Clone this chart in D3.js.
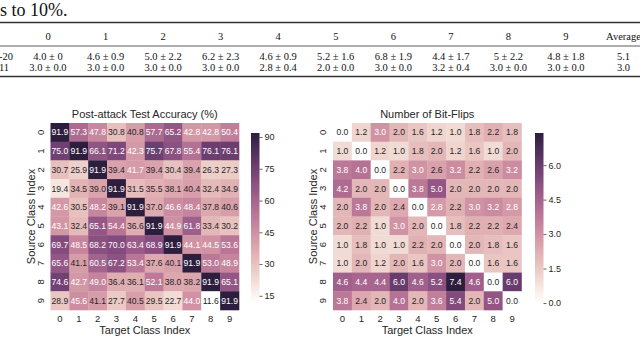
<!DOCTYPE html>
<html>
<head>
<meta charset="utf-8">
<style>
  body { margin: 0; background: #fff; }
  text { font-family: "Liberation Sans", Arial, sans-serif; }
  .serif { font-family: "Liberation Serif", "Times New Roman", serif; fill: #111; }
</style>
</head>
<body>
<svg id="chart" width="640" height="337"></svg>

<script src="https://d3js.org/d3.v7.min.js"></script>
<script>
  // class indices used on both axes
  const classes = d3.range(10)

  // post-attack test accuracy (%), rows = source class, cols = target class
  const accuracy = [
    [91.9, 57.3, 47.8, 30.8, 40.8, 57.7, 65.2, 42.8, 42.8, 50.4],
    [75.0, 91.9, 66.1, 71.2, 42.3, 75.7, 67.8, 55.4, 76.1, 76.1],
    [30.7, 25.9, 91.9, 39.4, 41.7, 39.4, 30.4, 39.4, 26.3, 27.3],
    [19.4, 34.5, 39.0, 91.9, 31.5, 35.5, 38.1, 40.4, 32.4, 34.9],
    [42.6, 30.5, 48.2, 39.1, 91.9, 37.0, 46.6, 48.4, 37.8, 40.6],
    [43.1, 32.4, 65.1, 54.4, 36.6, 91.9, 44.9, 61.8, 33.4, 30.2],
    [69.7, 48.5, 68.2, 70.0, 63.4, 68.9, 91.9, 44.1, 44.5, 53.6],
    [65.6, 41.1, 60.5, 67.2, 53.4, 37.6, 40.1, 91.9, 53.0, 48.9],
    [74.6, 42.7, 49.0, 36.4, 36.1, 52.1, 38.0, 38.2, 91.9, 65.1],
    [28.9, 45.6, 41.1, 27.7, 40.5, 29.5, 22.7, 44.0, 11.6, 91.9]
  ]

  // number of bit-flips
  const bitFlips = [
    [0.0, 1.2, 3.0, 2.0, 1.6, 1.2, 1.0, 1.8, 2.2, 1.8],
    [1.0, 0.0, 1.2, 1.0, 1.8, 2.0, 1.2, 1.6, 1.0, 2.0],
    [3.8, 4.0, 0.0, 2.2, 3.0, 2.6, 3.2, 2.2, 2.6, 3.2],
    [4.2, 2.0, 2.0, 0.0, 3.8, 5.0, 2.0, 2.0, 2.0, 2.0],
    [2.0, 3.8, 2.0, 2.4, 0.0, 2.8, 2.2, 3.0, 3.2, 2.8],
    [2.0, 2.2, 1.0, 3.0, 2.0, 0.0, 1.8, 2.2, 2.2, 2.4],
    [1.0, 1.8, 1.0, 1.0, 2.2, 2.0, 0.0, 2.0, 1.8, 1.6],
    [1.0, 2.0, 1.2, 2.0, 1.6, 3.0, 2.0, 0.0, 1.6, 1.6],
    [4.6, 4.4, 4.4, 6.0, 4.6, 5.2, 7.4, 4.6, 0.0, 6.0],
    [3.8, 2.4, 2.0, 4.0, 2.0, 3.6, 5.4, 2.0, 5.0, 0.0]
  ]

  const accTicks = [15, 30, 45, 60, 75, 90]
  const flipTicks = [0, 1.5, 3, 4.5, 6]

  // table fragment above the figure
  const tableHeader = ['0', '1', '2', '3', '4', '5', '6', '7', '8', '9', 'Average']
  const tableRowA = ['4.0 ± 0', '4.6 ± 0.9', '5.0 ± 2.2', '6.2 ± 2.3', '4.6 ± 0.9', '5.2 ± 1.6',
                     '6.8 ± 1.9', '4.4 ± 1.7', '5 ± 2.2', '4.8 ± 1.8', '5.1']
  const tableRowB = ['3.0 ± 0.0', '3.0 ± 0.0', '3.0 ± 0.0', '3.0 ± 0.0', '2.8 ± 0.4', '2.0 ± 0.0',
                     '3.0 ± 0.0', '3.2 ± 0.4', '3.0 ± 0.0', '3.0 ± 0.0', '3.0']

  const svg = d3.select('#chart')

  // ---- table ----
  svg.append('text').attr('class', 'serif')
    .attr('x', 0).attr('y', 16).style('font-size', '18px').text('s to 10%.')

  const colX = d3.scalePoint().domain(d3.range(11)).range([48, 566 + 57.5])
  const rule = (y, w) => svg.append('line').attr('x1', 0).attr('x2', 640)
    .attr('y1', y).attr('y2', y).attr('stroke', '#333').attr('stroke-width', w)
  rule(22.5, 1.4)
  rule(46, 0.8)
  rule(76.5, 1.4)

  const tableRows = [[tableHeader, 40], [tableRowA, 60], [tableRowB, 71]]
  tableRows.forEach(([row, y]) => {
    svg.append('g').selectAll('text').data(row).join('text')
      .attr('class', 'serif')
      .attr('x', (d, i) => colX(i)).attr('y', y)
      .attr('text-anchor', 'middle').style('font-size', '10.5px')
      .text(d => d)
  })
  svg.append('text').attr('class', 'serif').attr('x', -1).attr('y', 60)
    .style('font-size', '10.5px').text('-20')
  svg.append('text').attr('class', 'serif').attr('x', -1).attr('y', 71)
    .style('font-size', '10.5px').text('11')

  // seaborn cubehelix_palette(light=1, as_cmap=True)
  function cubehelix(x) {
    const gamma = 1, start = 0, rot = 0.4, hue = 0.8
    const xg = Math.pow(x, gamma)
    const a = hue * xg * (1 - xg) / 2
    const phi = 2 * Math.PI * (start / 3 + rot * x)
    const c = (p0, p1) => Math.max(0, Math.min(1, xg + a * (p0 * Math.cos(phi) + p1 * Math.sin(phi))))
    return [c(-0.14861, 1.78277), c(-0.29227, -0.90649), c(1.97294, 0)]
  }
  const cmap = t => {
    const [r, g, b] = cubehelix(1 - 0.85 * Math.max(0, Math.min(1, t)))
    return d3.rgb(r * 255, g * 255, b * 255)
  }
  const luminance = c => {
    const lin = v => { v /= 255; return v <= 0.03928 ? v / 12.92 : Math.pow((v + 0.055) / 1.055, 2.4) }
    return 0.2126 * lin(c.r) + 0.7152 * lin(c.g) + 0.0722 * lin(c.b)
  }

  function heatmap(opt) {
    const g = svg.append('g')
    const flat = opt.data.flat()
    const norm = d3.scaleLinear().domain(d3.extent(flat)).range([0, 1])

    const x = d3.scaleBand().domain(classes).range([opt.left, opt.right])
    const y = d3.scaleBand().domain(classes).range([opt.top, opt.bottom])

    const cells = g.selectAll('g.cell')
      .data(opt.data.flatMap((row, i) => row.map((v, j) => ({ i, j, v }))))
      .join('g')
    cells.append('rect')
      .attr('x', d => x(d.j)).attr('y', d => y(d.i))
      .attr('width', x.bandwidth() + 0.3).attr('height', y.bandwidth() + 0.3)
      .attr('fill', d => cmap(norm(d.v)))
    cells.append('text')
      .attr('x', d => x(d.j) + x.bandwidth() / 2)
      .attr('y', d => y(d.i) + y.bandwidth() / 2)
      .attr('dy', '0.36em').attr('text-anchor', 'middle')
      .style('font-size', '8.6px')
      .attr('fill', d => luminance(cmap(norm(d.v))) > 0.408 ? '#262626' : '#fff')
      .text(d => d.v.toFixed(1))

    // tick labels
    g.selectAll('text.xt').data(classes).join('text')
      .attr('x', d => x(d) + x.bandwidth() / 2).attr('y', opt.bottom + 12)
      .attr('text-anchor', 'middle').style('font-size', '9.5px').attr('fill', '#262626')
      .text(d => d)
    g.selectAll('text.yt').data(classes).join('text')
      .attr('transform', d => `translate(${opt.left - 7},${y(d) + y.bandwidth() / 2}) rotate(-90)`)
      .attr('text-anchor', 'middle').style('font-size', '9.5px').attr('fill', '#262626')
      .text(d => d)

    // labels and title
    g.append('text').attr('x', (opt.left + opt.right) / 2).attr('y', opt.bottom + 24)
      .attr('text-anchor', 'middle').style('font-size', '11px').attr('fill', '#262626')
      .text('Target Class Index')
    g.append('text')
      .attr('transform', `translate(${opt.left - 16},${(opt.top + opt.bottom) / 2}) rotate(-90)`)
      .attr('text-anchor', 'middle').style('font-size', '11px').attr('fill', '#262626')
      .text('Source Class Index')
    g.append('text').attr('x', (opt.left + opt.right) / 2).attr('y', opt.top - 5)
      .attr('text-anchor', 'middle').style('font-size', '11px').attr('fill', '#262626')
      .text(opt.title)

    // colorbar
    const cbY = d3.scaleLinear().domain(d3.extent(flat)).range([303, 133])
    const gradId = 'grad' + opt.left
    const grad = svg.append('defs').append('linearGradient').attr('id', gradId)
      .attr('x1', 0).attr('y1', 1).attr('x2', 0).attr('y2', 0)
    d3.range(0, 1.0001, 0.05).forEach(t => {
      grad.append('stop').attr('offset', t).attr('stop-color', cmap(t))
    })
    g.append('rect').attr('x', opt.cbX).attr('y', 133).attr('width', 8.5).attr('height', 170)
      .attr('fill', `url(#${gradId})`)
    const axis = d3.axisRight(cbY).tickValues(opt.ticks).tickSize(3).tickPadding(2)
      .tickFormat(opt.fmt)
    const ag = g.append('g').attr('transform', `translate(${opt.cbX + 8.5},0)`).call(axis)
    ag.select('.domain').remove()
    ag.selectAll('line').attr('stroke', '#262626').attr('stroke-width', 0.7)
    ag.selectAll('text').style('font-size', '9px').attr('fill', '#262626')
      .style('font-family', '"Liberation Sans", Arial, sans-serif')
  }

  heatmap({
    data: accuracy, title: 'Post-attack Test Accuracy (%)',
    left: 50.5, right: 239, top: 123, bottom: 310, cbX: 251,
    ticks: accTicks, fmt: d3.format('d')
  })
  heatmap({
    data: bitFlips, title: 'Number of Bit-Flips',
    left: 333, right: 521.5, top: 123, bottom: 310, cbX: 535,
    ticks: flipTicks, fmt: d3.format('.1f')
  })
</script>
</body>
</html>
